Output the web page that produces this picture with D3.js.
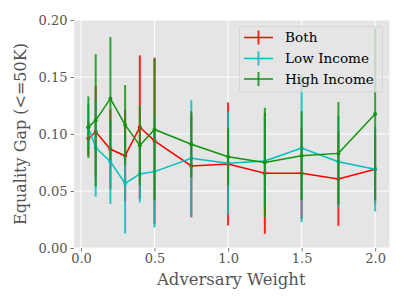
<!DOCTYPE html>
<html><head><meta charset="utf-8">
<script src="https://cdn.jsdelivr.net/npm/d3@7"></script>
<style>body{margin:0;background:#fff}svg{display:block}</style>
</head><body>
<svg id="c" width="407" height="305"></svg>
<script>
const weights = [0.05, 0.1, 0.2, 0.3, 0.4, 0.5, 0.75, 1.0, 1.25, 1.5, 1.75, 2.0];
const bothMean = [0.096, 0.102, 0.0866, 0.081, 0.106, 0.094, 0.072, 0.0737, 0.0655, 0.0655, 0.0605, 0.069];
const bothErr  = [0.015, 0.04, 0.035, 0.04, 0.063, 0.073, 0.045, 0.054, 0.053, 0.04, 0.041, 0.03];
const lowMean  = [0.106, 0.088, 0.0757, 0.0567, 0.065, 0.067, 0.0787, 0.0743, 0.0763, 0.0877, 0.0757, 0.069];
const lowErr   = [0.02, 0.043, 0.037, 0.044, 0.025, 0.049, 0.051, 0.045, 0.04, 0.065, 0.040, 0.037];
const highMean = [0.106, 0.112, 0.131, 0.108, 0.090, 0.104, 0.091, 0.080, 0.075, 0.081, 0.083, 0.1175];
const highErr  = [0.027, 0.058, 0.054, 0.035, 0.035, 0.062, 0.029, 0.025, 0.048, 0.039, 0.045, 0.075];
const seriesNames = ["Both", "Low Income", "High Income"];
const seriesColors = ["#ff0000", "#00bfbf", "#109410"];
const xTicks = [0.0, 0.5, 1.0, 1.5, 2.0];
const yTicks = [0.00, 0.05, 0.10, 0.15, 0.20];

const series = [
  {name: seriesNames[0], color: seriesColors[0], mean: bothMean, err: bothErr},
  {name: seriesNames[1], color: seriesColors[1], mean: lowMean, err: lowErr},
  {name: seriesNames[2], color: seriesColors[2], mean: highMean, err: highErr}
];

const svg = d3.select("#c");
const L = 74, R = 389.5, T = 20, B = 248;
const x = d3.scaleLinear().domain([-0.0475, 2.0975]).range([L, R]);
const y = d3.scaleLinear().domain([0, 0.2]).range([B, T]);
const font = "'DejaVu Serif', serif";

svg.append("rect").attr("x", L).attr("y", T).attr("width", R - L).attr("height", B - T).attr("fill", "#e5e5e5");

const g = svg.append("g");
g.selectAll(".gx").data(xTicks).join("line")
  .attr("x1", d => x(d)).attr("x2", d => x(d)).attr("y1", T).attr("y2", B)
  .attr("stroke", "#fff").attr("stroke-width", 1);
g.selectAll(".gy").data(yTicks).join("line")
  .attr("y1", d => y(d)).attr("y2", d => y(d)).attr("x1", L).attr("x2", R)
  .attr("stroke", "#fff").attr("stroke-width", 1);

const xAxis = svg.append("g").attr("transform", `translate(0,${B})`)
  .call(d3.axisBottom(x).tickValues(xTicks).tickFormat(d3.format(".1f")).tickSize(3.5).tickPadding(2));
const yAxis = svg.append("g").attr("transform", `translate(${L},0)`)
  .call(d3.axisLeft(y).tickValues(yTicks).tickFormat(d3.format(".2f")).tickSize(3.5).tickPadding(3));
[xAxis, yAxis].forEach(a => {
  a.select(".domain").remove();
  a.selectAll(".tick line").attr("stroke", "#555").attr("stroke-width", 0.8);
  a.selectAll(".tick text").attr("fill", "#555").attr("font-family", font).attr("font-size", 13);
});

const line = d3.line().x(d => x(d[0])).y(d => y(d[1]));
series.forEach(s => {
  const gs = svg.append("g");
  const pts = weights.map((w, i) => [w, s.mean[i], s.err[i]]);
  gs.selectAll("line.eb").data(pts).join("line")
    .attr("x1", d => x(d[0])).attr("x2", d => x(d[0]))
    .attr("y1", d => y(d[1] - d[2])).attr("y2", d => y(d[1] + d[2]))
    .attr("stroke", s.color).attr("stroke-width", 2).attr("stroke-opacity", 0.85);
  gs.append("path").datum(pts).attr("d", line).attr("fill", "none")
    .attr("stroke", s.color).attr("stroke-width", 1.5);
  gs.selectAll("circle").data(pts).join("circle")
    .attr("cx", d => x(d[0])).attr("cy", d => y(d[1])).attr("r", 2).attr("fill", s.color);
});

// legend
const lg = svg.append("g");
lg.append("rect").attr("x", 239.5).attr("y", 26.5).attr("width", 143).attr("height", 65.5).attr("rx", 2)
  .attr("fill", "#e5e5e5").attr("fill-opacity", 0.8).attr("stroke", "#cccccc").attr("stroke-opacity", 0.8).attr("stroke-width", 0.8);
const ly = [37.5, 58.5, 79];
series.forEach((s, i) => {
  lg.append("line").attr("x1", 244).attr("x2", 273).attr("y1", ly[i]).attr("y2", ly[i])
    .attr("stroke", s.color).attr("stroke-width", 1.5);
  lg.append("line").attr("x1", 258.5).attr("x2", 258.5).attr("y1", ly[i] - 7).attr("y2", ly[i] + 7)
    .attr("stroke", s.color).attr("stroke-width", 2).attr("stroke-opacity", 0.85);
  lg.append("text").attr("x", 285).attr("y", ly[i] + 4.5).text(s.name)
    .attr("font-family", font).attr("font-size", 13.6).attr("fill", "#000");
});

svg.append("text").attr("x", (L + R) / 2 - 0.5).attr("y", 285).attr("text-anchor", "middle")
  .attr("font-family", font).attr("font-size", 16.5).attr("fill", "#555").text("Adversary Weight");
svg.append("text").attr("transform", `translate(26,${(T + B) / 2}) rotate(-90)`).attr("text-anchor", "middle")
  .attr("font-family", font).attr("font-size", 16).attr("fill", "#555").text("Equality Gap (<=50K)");
</script>
</body></html>
